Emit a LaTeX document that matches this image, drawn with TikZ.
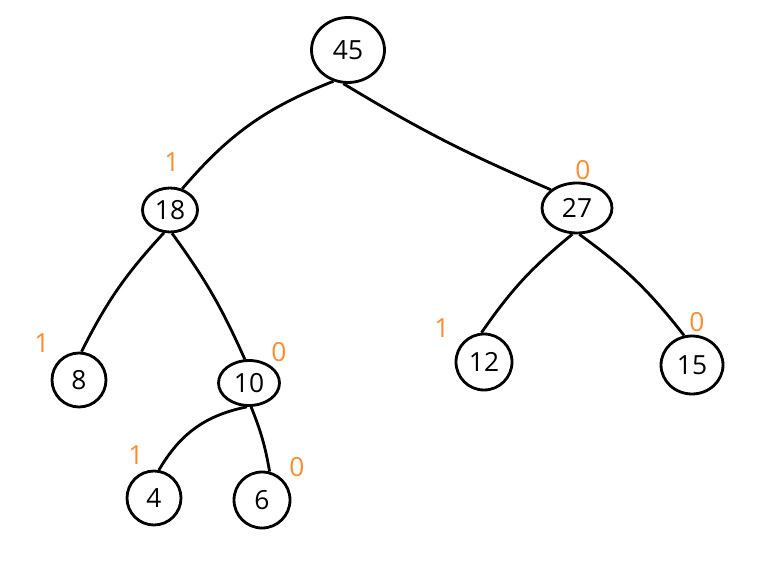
\documentclass[tikz,border=0pt]{standalone}
\usepackage{fontspec}
\setmainfont{Open Sans}
\usetikzlibrary{shapes.geometric}
\definecolor{bitorange}{RGB}{255,140,50}
\tikzset{
  tnode/.style={draw,ellipse,line width=1.6pt,inner sep=0pt,font=\fontsize{15}{17}\selectfont},
  bit/.style={text=bitorange,font=\fontsize{15}{17}\selectfont},
  tedge/.style={line width=1.6pt}
}

\begin{document}
\begin{tikzpicture}[x=0.02cm,y=-0.02cm]
\useasboundingbox (0,0) rectangle (767,567);
% tree nodes
\node[tnode,minimum width=1.46cm,minimum height=1.3cm] (n45) at (348,50) {45};
\node[tnode,minimum width=1.1cm,minimum height=0.88cm] (n18) at (170,210) {18};
\node[tnode,minimum width=1.4cm,minimum height=1.0cm] (n27) at (577,208) {27};
\node[tnode,minimum width=1.08cm,minimum height=1.08cm] (n8) at (79,380) {8};
\node[tnode,minimum width=1.22cm,minimum height=0.9cm] (n10) at (249,383) {10};
\node[tnode,minimum width=1.12cm,minimum height=1.12cm] (n12) at (484,362) {12};
\node[tnode,minimum width=1.24cm,minimum height=1.16cm] (n15) at (692,365) {15};
\node[tnode,minimum width=1.08cm,minimum height=1.08cm] (n4) at (154,498) {4};
\node[tnode,minimum width=1.12cm,minimum height=1.12cm] (n6) at (262,500) {6};
% edges
\draw[tedge] (n45.245) to[bend right=14] (n18.60);
\draw[tedge] (n45.262) to[bend right=4] (n27.145);
\draw[tedge] (n18.255) to[bend right=8] (n8.85);
\draw[tedge] (n18.275) to[bend left=6] (n10.100);
\draw[tedge] (n27.260) to[bend right=8] (n12.95);
\draw[tedge] (n27.275) to[bend left=8] (n15.105);
\draw[tedge] (n10.265) to[bend right=24] (n4.80);
\draw[tedge] (n10.275) to[bend left=6] (n6.75);
% bit labels
\node[bit] (b18) at (172,162) {1};
\node[bit] (b27) at (583,170) {0};
\node[bit] (b8) at (42,343) {1};
\node[bit] (b10) at (279,352) {0};
\node[bit] (b12) at (442,328) {1};
\node[bit] (b15) at (697,322) {0};
\node[bit] (b4) at (136,455) {1};
\node[bit] (b6) at (297,467) {0};
\end{tikzpicture}
\end{document}
